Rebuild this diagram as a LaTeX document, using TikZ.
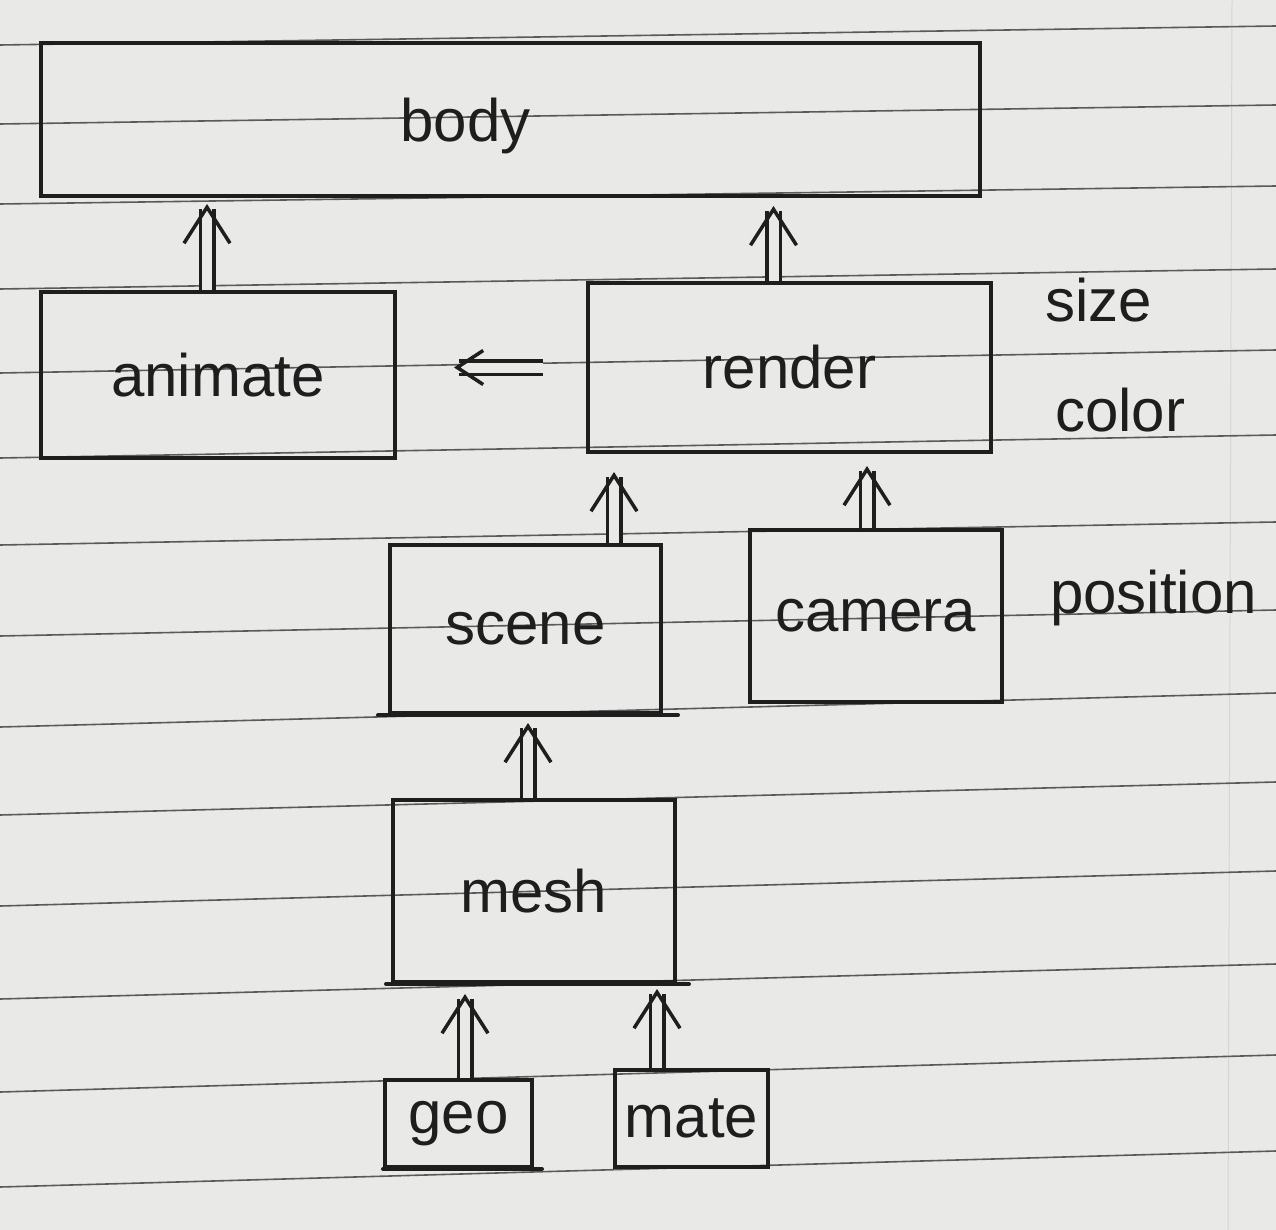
\documentclass[tikz,border=0pt]{standalone}
\usepackage{fontspec}
\setmainfont{Liberation Sans}
\usetikzlibrary{arrows.meta}
\definecolor{ink}{HTML}{1E1E1E}
\definecolor{paper}{HTML}{E9E9E7}
\definecolor{rulegray}{HTML}{5A5A5A}
\begin{document}
\begin{tikzpicture}[x=1pt,y=-1pt,
  box/.style={draw=ink, line width=4pt, inner sep=0pt, text=ink,
              font=\fontsize{60}{64}\selectfont},
  word/.style={text=ink, inner sep=0pt, font=\fontsize{60}{64}\selectfont},
  dbl/.style={draw=ink, double=paper, double distance=10pt, line width=3.5pt,
              -{Straight Barb[length=36pt, width=46pt, line width=3.5pt]}},
  smalldbl/.style={dbl, -{Straight Barb[length=26pt, width=34pt, line width=3.5pt]}},
  rule/.style={draw=rulegray, line width=1.6pt},
  edge/.style={draw=ink, line width=4pt, line cap=round}]

% paper
\fill[paper] (0,0) rectangle (1276,1230);
\useasboundingbox (0,0) rectangle (1276,1230);
\draw[rulegray!25, line width=1pt] (1232,0) -- (1228,1230);
\foreach \l/\r in {45/26,124/105,204/186,289/269,373/350,458/435,545/522,
                   636/610,727/693,815/782,906/871,999/964,1092/1055,1187/1151}
  \draw[rule] (0,\l) -- (1276,\r);

% boxes
\node[box, minimum width=939pt, minimum height=153pt,
      label={[word, xshift=-45pt, yshift=-6pt]center:body}] (body) at (510.5,119.5) {};
\node[box, minimum width=354pt, minimum height=166pt] (animate) at (218,375) {animate};
\node[box, minimum width=403pt, minimum height=169pt] (render) at (789.5,367.5) {render};
\node[box, minimum width=271pt, minimum height=168pt] (scene) at (525.5,629) {scene};
\node[box, minimum width=252pt, minimum height=172pt] (camera) at (876,616) {camera};
\node[box, minimum width=282pt, minimum height=182pt] (mesh) at (534,891) {mesh};
\node[box, minimum width=147pt, minimum height=87pt] (geo) at (458.5,1123.5) {geo};
\node[box, minimum width=153pt, minimum height=97pt] (mate) at (691.5,1118.5) {mate};

% overhanging bottom strokes
\draw[edge] ([xshift=-10pt]scene.south west) -- ([xshift=15pt]scene.south east);
\draw[edge] ([xshift=-5pt]mesh.south west) -- ([xshift=12pt]mesh.south east);
\draw[edge] (geo.south west) -- ([xshift=8pt]geo.south east);

% side notes
\node[word, anchor=west] (size) at (1045,300) {size};
\node[word, anchor=west] (color) at (1055,410) {color};
\node[word, anchor=west] (position) at (1050,598) {position};

% connectors
\coordinate (a1) at ([xshift=-11pt]animate.north);
\draw[dbl, shorten >=6pt] (a1) -- (a1 |- body.south);
\coordinate (r1) at ([xshift=-16pt]render.north);
\draw[dbl, shorten >=8pt] (r1) -- (r1 |- body.south);
\draw[smalldbl, shorten <=43pt, shorten >=57pt] (render.west) -- (render.west -| animate.east);
\coordinate (s1) at ([xshift=88.5pt]scene.north);
\draw[dbl, shorten >=18pt] (s1) -- (s1 |- render.south);
\coordinate (c1) at ([xshift=-9pt]camera.north);
\draw[dbl, shorten >=12pt] (c1) -- (c1 |- render.south);
\coordinate (m1) at ([xshift=-6pt]mesh.north);
\draw[dbl, shorten >=8pt] (m1) -- (m1 |- scene.south);
\coordinate (g1) at ([xshift=6.5pt]geo.north);
\draw[dbl, shorten >=10pt] (g1) -- (g1 |- mesh.south);
\coordinate (t1) at ([xshift=-34.5pt]mate.north);
\draw[dbl, shorten >=5pt] (t1) -- (t1 |- mesh.south);
\end{tikzpicture}
\end{document}
